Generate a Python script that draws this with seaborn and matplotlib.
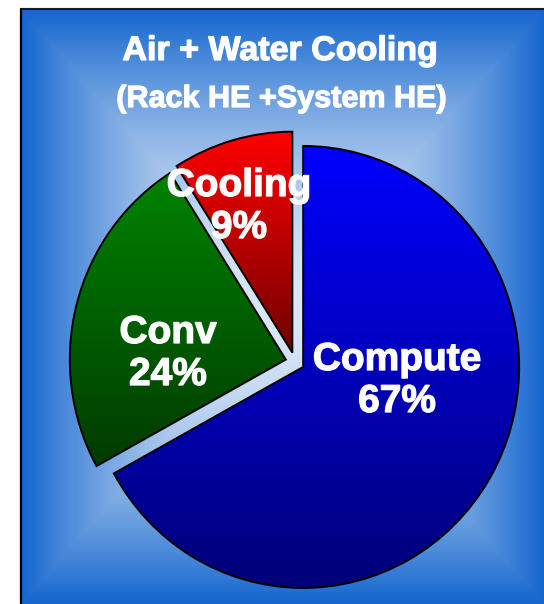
import numpy as np
import matplotlib
matplotlib.use("Agg")
import matplotlib.pyplot as plt
import matplotlib.patheffects as pe
import seaborn as sns

# --- data -------------------------------------------------------------
categories = ["Compute", "Conv", "Cooling"]
shares = [67, 24, 9]
top_colors = ["#0000ff", "#008400", "#ff0000"]
bottom_colors = ["#000078", "#003a00", "#700000"]
title = "Air + Water Cooling"
subtitle = "(Rack HE +System HE)"

# --- style --------------------------------------------------------------
sns.set_style("white")
plt.rcParams["font.family"] = ["Liberation Sans", "DejaVu Sans"]

W, H = 544, 604
fig = plt.figure(figsize=(W / 100, H / 100), dpi=100)
ax = fig.add_axes([0, 0, 1, 1])


def Y(y_img):
    """Convert a top-down pixel row into the y-up data coordinate."""
    return H - y_img


# --- panel background: rectangular "from centre" gradient ---------------
px0, py0 = 21, 9
gx = np.linspace(px0, W, 400)
gy = np.linspace(py0, H, 440)
XX, YY = np.meshgrid(gx, gy)
cxp, cyp = (px0 + W) / 2, (py0 + H) / 2
t = np.maximum(np.abs(XX - cxp) / (W - cxp), np.abs(YY - cyp) / (H - cyp))
t = np.clip(t, 0, 1) ** 1.7
bg_cmap = sns.blend_palette(["#dce8f6", "#1466cf"], as_cmap=True)
ax.imshow(t, cmap=bg_cmap, vmin=0, vmax=1, origin="upper", aspect="auto",
          extent=(px0, W, Y(H), Y(py0)), zorder=0, interpolation="bilinear")
ax.plot([px0, W], [Y(py0 - 1.5), Y(py0 - 1.5)], color="#b0b0b0", lw=1.0, zorder=1)
ax.plot([px0, W], [Y(py0), Y(py0)], color="black", lw=1.2, zorder=1)
ax.plot([px0, px0], [Y(py0), Y(H)], color="black", lw=1.6, zorder=1)
ax.set_xlim(0, W)
ax.set_ylim(0, H)
ax.axis("off")

# --- exploded pie (slightly oval) with vertical gradient fills ----------
R_v, R_h = 221, 216          # vertical / horizontal radius in pixels
sx = R_v / R_h               # x stretch of the pie axes
pie_ax = fig.add_axes([0, 0, 1, 1])
CX, CY = 295, 362
gap = 9.7
wedges, _ = pie_ax.pie(shares, radius=R_v, center=(CX * sx, Y(CY)),
                       startangle=90, counterclock=False,
                       explode=[gap] * len(shares), frame=True,
                       wedgeprops=dict(facecolor="none", edgecolor="black",
                                       linewidth=1.4, zorder=3))

grad = np.linspace(0, 1, 256)[:, None]
for w, c_top, c_bot in zip(wedges, top_colors, bottom_colors):
    v = w.get_path().vertices
    x0, x1 = v[:, 0].min(), v[:, 0].max()
    y0, y1 = v[:, 1].min(), v[:, 1].max()
    cmap = sns.blend_palette([c_top, c_bot], as_cmap=True)
    im = pie_ax.imshow(grad, cmap=cmap, origin="upper", aspect="auto",
                       extent=(x0, x1, y0, y1), zorder=2)
    im.set_clip_path(w)

pie_ax.set_aspect("auto")
pie_ax.set_xlim(0, W * sx)
pie_ax.set_ylim(0, H)
pie_ax.axis("off")

# --- slice labels --------------------------------------------------------
heavy = [pe.withStroke(linewidth=0.9, foreground="white")]
label_anchor = {"Compute": (397, 370), "Conv": (168, 343), "Cooling": (239, 196)}
line_gap = 42
for name, share in zip(categories, shares):
    lx, ly = label_anchor[name]
    pie_ax.text(lx, Y(ly), name, color="white", fontsize=28,
                fontweight="bold", ha="center", va="baseline", zorder=5,
                path_effects=heavy, transform=ax.transData)
    pie_ax.text(lx, Y(ly + line_gap), f"{share}%", color="white",
                fontsize=28, fontweight="bold", ha="center", va="baseline",
                zorder=5, path_effects=heavy, transform=ax.transData)

# --- titles ---------------------------------------------------------------
pie_ax.text(280, Y(60), title, color="white", fontsize=24.5,
            fontweight="bold", ha="center", va="baseline", zorder=5,
            path_effects=heavy, transform=ax.transData)
pie_ax.text(281, Y(107), subtitle, color="white", fontsize=22,
            fontweight="bold", ha="center", va="baseline", zorder=5,
            path_effects=heavy, transform=ax.transData)

fig.savefig("out.png", dpi=100, facecolor="white")
